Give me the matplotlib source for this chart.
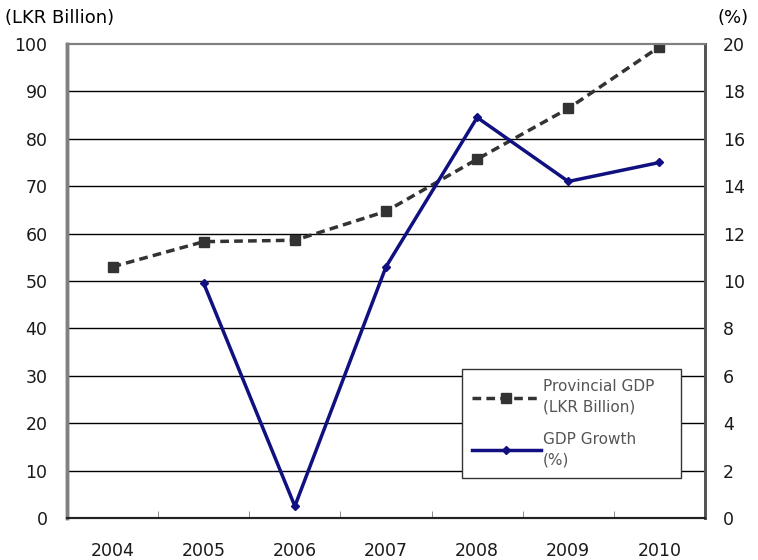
import numpy as np
import matplotlib
matplotlib.use('Agg')
import matplotlib.pyplot as plt

plt.rcParams['font.family'] = ['DejaVu Sans']

years = ['2004', '2005', '2006', '2007', '2008', '2009', '2010']
gdp = [53.0, 58.3, 58.6, 64.7, 75.7, 86.4, 99.4]          # LKR Billion
growth_years = ['2005', '2006', '2007', '2008', '2009', '2010']
growth = [9.9, 0.5, 10.6, 16.9, 14.2, 15.0]               # %

x = np.arange(len(years))
xg = np.array([years.index(y) for y in growth_years])

fig = plt.figure(figsize=(7.58, 5.6), dpi=100)
ax = fig.add_axes([67/758, 42/560, 638/758, 474/560])
ax2 = ax.twinx()

# horizontal grid
for v in range(10, 100, 10):
    ax.axhline(v, color='black', lw=1, zorder=1)

l1, = ax.plot(x, gdp, color='#333333', ls=(0, (2.5, 1.5)), lw=2.5,
              marker='s', ms=7, zorder=3)
l2, = ax2.plot(xg, growth, color='#101080', lw=2.5,
               marker='D', ms=4, zorder=3)

ax.set_xlim(-0.5, 6.5)
ax.set_ylim(0, 100)
ax2.set_ylim(0, 20)
ax.set_yticks(range(0, 101, 10))
ax2.set_yticks(range(0, 21, 2))
ax.set_xticks(x)
ax.set_xticklabels(years)
ax.set_xticks(np.arange(0.5, 6.5, 1), minor=True)

ax.tick_params(axis='x', which='major', length=0, pad=17, labelsize=12.5, labelcolor='#1a1a1a')
ax.tick_params(axis='x', which='minor', direction='in', length=5, color='#777777')
ax.tick_params(axis='y', length=0, pad=14, labelsize=12.5, labelcolor='#1a1a1a')
ax2.tick_params(axis='y', length=0, pad=13, labelsize=12.5, labelcolor='#1a1a1a')

for a in (ax, ax2):
    a.spines['left'].set_color('#808080')
    a.spines['left'].set_linewidth(2.5)
    a.spines['right'].set_color('#555555')
    a.spines['right'].set_linewidth(2)
    a.spines['top'].set_color('#808080')
    a.spines['top'].set_linewidth(1.5)
    a.spines['bottom'].set_color('#222222')
    a.spines['bottom'].set_linewidth(1.5)

fig.text(5/758, 1 - 18/560, '(LKR Billion)', fontsize=13, va='center', ha='left')
fig.text(733/758, 1 - 18/560, '(%)', fontsize=13, va='center', ha='center')

leg = ax2.legend([l1, l2], ['Provincial GDP\n(LKR Billion)', 'GDP Growth\n(%)'],
                 loc='upper left', bbox_to_anchor=(395/638, 0, 219/638, 149/474),
                 mode='expand', fontsize=11, frameon=True, fancybox=False,
                 edgecolor='#333333', framealpha=1, handlelength=4.5,
                 handletextpad=0.15, labelspacing=1.1, borderpad=0.65,
                 borderaxespad=0, labelcolor='#555555')
leg.get_frame().set_linewidth(1)
for t in leg.get_texts():
    t.set_linespacing(1.5)

fig.savefig('out.png', dpi=100)
